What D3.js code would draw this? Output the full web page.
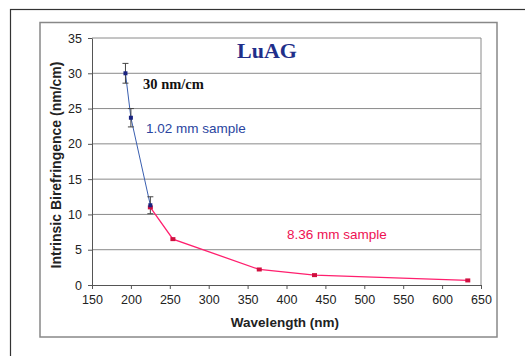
<!DOCTYPE html>
<html>
<head>
<meta charset="utf-8">
<script src="https://cdn.jsdelivr.net/npm/d3@7"></script>
<style>
  body { margin: 0; background: #fff; }
  svg { display: block; }
</style>
</head>
<body>
<div id="chart"></div>
<script>
// data
var thinWl   = [193, 200, 225],
    thinVal  = [30, 23.7, 11.3],
    thinErr  = [1.4, 1.3, 1.2];
var thickWl  = [225, 254, 365, 436, 633],
    thickVal = [11, 6.5, 2.2, 1.4, 0.65];
var xTicks = [150, 200, 250, 300, 350, 400, 450, 500, 550, 600, 650],
    yTicks = [0, 5, 10, 15, 20, 25, 30, 35];

function draw_chart() {
  // setup dimensions
  var W = 525, H = 356,
      pl = 92, pr = 481, pt = 38, pb = 285;

  var svg = d3.select("#chart").append("svg")
    .attr("width", W)
    .attr("height", H);

  // outer frames
  svg.append("rect")
    .attr("x", 10.5).attr("y", 9.5)
    .attr("width", 530).attr("height", 360)
    .attr("fill", "none").attr("stroke", "#333").attr("stroke-width", 1.2);
  svg.append("rect")
    .attr("x", 40).attr("y", 22.5)
    .attr("width", 457).attr("height", 314.5)
    .attr("fill", "#fff").attr("stroke", "#888").attr("stroke-width", 1.5);

  // scales
  var x = d3.scaleLinear().domain([150, 650]).range([pl, pr]);
  var y = d3.scaleLinear().domain([0, 35]).range([pb, pt]);

  // gridlines + plot border
  svg.append("g").selectAll("line")
    .data(yTicks.slice(1))
    .enter().append("line")
    .attr("x1", pl).attr("x2", pr)
    .attr("y1", function(d) { return y(d); })
    .attr("y2", function(d) { return y(d); })
    .attr("stroke", "#8a8a8a").attr("stroke-width", 1);
  svg.append("line")
    .attr("x1", pr).attr("x2", pr)
    .attr("y1", pt).attr("y2", pb)
    .attr("stroke", "#8a8a8a");

  // axes
  var xAxis = svg.append("g")
    .attr("transform", "translate(0," + pb + ")")
    .call(d3.axisBottom(x).tickValues(xTicks).tickSize(4).tickPadding(6).tickSizeOuter(0));
  var yAxis = svg.append("g")
    .attr("transform", "translate(" + pl + ",0)")
    .call(d3.axisLeft(y).tickValues(yTicks).tickSize(4).tickPadding(6).tickSizeOuter(0));
  [xAxis, yAxis].forEach(function(a) {
    a.selectAll("path, line").attr("stroke", "#555");
    a.selectAll("text")
      .attr("fill", "#222")
      .style("font-family", "Liberation Sans, Arial, sans-serif")
      .style("font-size", "12.5px");
  });

  // axis titles
  svg.append("text")
    .attr("x", 285).attr("y", 327)
    .attr("text-anchor", "middle")
    .style("font-family", "Liberation Sans, Arial, sans-serif")
    .style("font-size", "13.5px").style("font-weight", "bold")
    .attr("fill", "#222")
    .text("Wavelength (nm)");
  svg.append("text")
    .attr("transform", "translate(61,165) rotate(-90)")
    .attr("text-anchor", "middle")
    .style("font-family", "Liberation Sans, Arial, sans-serif")
    .style("font-size", "14px").style("font-weight", "bold")
    .attr("fill", "#222")
    .text("Intrinsic Birefringence (nm/cm)");

  // lines
  var line = d3.line()
    .x(function(d) { return x(d[0]); })
    .y(function(d) { return y(d[1]); });
  var thick = d3.zip(thickWl, thickVal),
      thin = d3.zip(thinWl, thinVal);

  svg.append("path")
    .datum(thick)
    .attr("d", line)
    .attr("fill", "none").attr("stroke", "#ff1f6e").attr("stroke-width", 1.3);
  svg.append("path")
    .datum(thin)
    .attr("d", line)
    .attr("fill", "none").attr("stroke", "#3a5fb0").attr("stroke-width", 1);

  // error bars
  var eb = svg.append("g").attr("stroke", "#444").attr("stroke-width", 1);
  thin.forEach(function(d, i) {
    var cx = x(d[0]), y1 = y(d[1] + thinErr[i]), y2 = y(d[1] - thinErr[i]);
    eb.append("line").attr("x1", cx).attr("x2", cx).attr("y1", y1).attr("y2", y2);
    eb.append("line").attr("x1", cx - 3).attr("x2", cx + 3).attr("y1", y1).attr("y2", y1);
    eb.append("line").attr("x1", cx - 3).attr("x2", cx + 3).attr("y1", y2).attr("y2", y2);
  });

  // markers
  svg.append("g").selectAll("rect")
    .data(thick)
    .enter().append("rect")
    .attr("x", function(d) { return x(d[0]) - 2.5; })
    .attr("y", function(d) { return y(d[1]) - 2; })
    .attr("width", 5).attr("height", 4)
    .attr("fill", "#d0103f");
  svg.append("g").selectAll("rect")
    .data(thin)
    .enter().append("rect")
    .attr("x", function(d) { return x(d[0]) - 2; })
    .attr("y", function(d) { return y(d[1]) - 2; })
    .attr("width", 4).attr("height", 4)
    .attr("fill", "#1a2380");

  // annotations
  svg.append("text")
    .attr("x", 267).attr("y", 58)
    .attr("text-anchor", "middle")
    .style("font-family", "Liberation Serif, Times New Roman, serif")
    .style("font-size", "22px").style("font-weight", "bold")
    .attr("fill", "#1f2f8a")
    .text("LuAG");
  svg.append("text")
    .attr("x", 143).attr("y", 89)
    .style("font-family", "Liberation Serif, Times New Roman, serif")
    .style("font-size", "14.5px").style("font-weight", "bold")
    .attr("fill", "#111")
    .text("30 nm/cm");
  svg.append("text")
    .attr("x", 146).attr("y", 133)
    .style("font-family", "Liberation Sans, Arial, sans-serif")
    .style("font-size", "13.5px")
    .attr("fill", "#2a45a0")
    .text("1.02 mm sample");
  svg.append("text")
    .attr("x", 287).attr("y", 239)
    .style("font-family", "Liberation Sans, Arial, sans-serif")
    .style("font-size", "13.5px")
    .attr("fill", "#ee1153")
    .text("8.36 mm sample");
}

draw_chart();
</script>
</body>
</html>
